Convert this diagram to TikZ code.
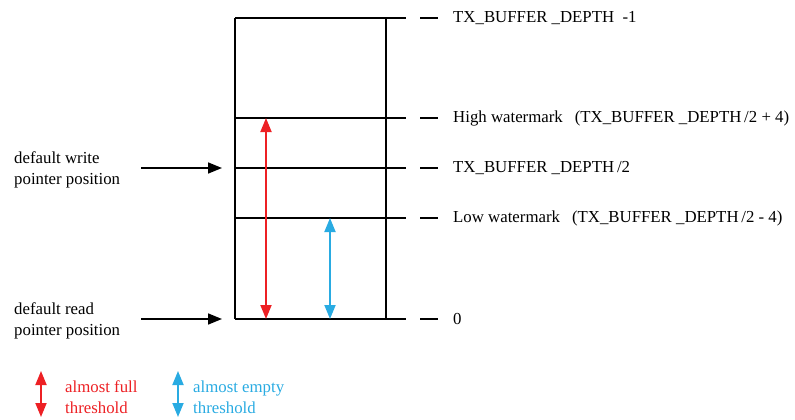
\documentclass[tikz,border=0pt]{standalone}
\usepackage{fontspec}
\setmainfont{Liberation Serif}
\usetikzlibrary{arrows.meta, positioning}
\definecolor{fullred}{HTML}{ED2024}
\definecolor{emptyblue}{HTML}{29ABE2}

\begin{document}
\begin{tikzpicture}[x=1pt, y=-1pt, font=\fontsize{16.8}{21}\selectfont, >={Triangle[length=14pt, width=11pt]},
    level/.style={line width=1.6pt},
    tick/.style={line width=1.6pt},
    lvlabel/.style={anchor=west, inner sep=0pt},
    sidetext/.style={anchor=west, align=left, inner sep=0pt},
    ptrarrow/.style={->, line width=1.6pt},
    thresh/.style={<->, line width=1.8pt},
  ]
    \useasboundingbox (0,0) rectangle (795,420);
    % buffer levels
    \coordinate (top)  at (235,18);
    \coordinate (high) at (235,118);
    \coordinate (half) at (235,168);
    \coordinate (low)  at (235,218);
    \coordinate (zero) at (235,319);
    \draw[level] (top) -- (zero);
    \draw[level] (386,18) -- (386,319);
    \foreach \lv/\y in {top/18, high/118, half/168, low/218, zero/319} {
      \draw[level] (\lv) -- (406,\y);
      \draw[tick] (420,\y) -- (438,\y);
    }
    % level labels
    \node[lvlabel] (ltop)  at (453,18)  {TX\_BUFFER \_DEPTH\ \ -1};
    \node[lvlabel] (lhigh) at (453,118) {High watermark\hspace{12pt}(TX\_BUFFER \_DEPTH\,/2 + 4)};
    \node[lvlabel] (lhalf) at (453,168) {TX\_BUFFER \_DEPTH\,/2};
    \node[lvlabel] (llow)  at (453,218) {Low watermark\hspace{12pt}(TX\_BUFFER \_DEPTH\,/2 - 4)};
    \node[lvlabel] (lzero) at (453,319) {0};
    % pointers
    \node[sidetext] (wptr) at (14,170) {default write\\pointer position};
    \node[sidetext] (rptr) at (14,321) {default read\\pointer position};
    \coordinate (wstart) at (141,168);
    \coordinate (rstart) at (141,319);
    \draw[ptrarrow] (wstart) -- ([xshift=-13pt]half);
    \draw[ptrarrow] (rstart) -- ([xshift=-13pt]zero);
    % thresholds
    \draw[thresh, fullred] (266,118) -- (266,319);
    \draw[thresh, emptyblue] (330,218) -- (330,319);
    % legend
    \draw[thresh, fullred] (41,371) -- (41,417);
    \node[sidetext, text=fullred] (kfull) at (65,397) {almost full\\threshold};
    \draw[thresh, emptyblue] (178,371) -- (178,417);
    \node[sidetext, text=emptyblue] (kempty) at (193,397) {almost empty\\threshold};
  \end{tikzpicture}
\end{document}
